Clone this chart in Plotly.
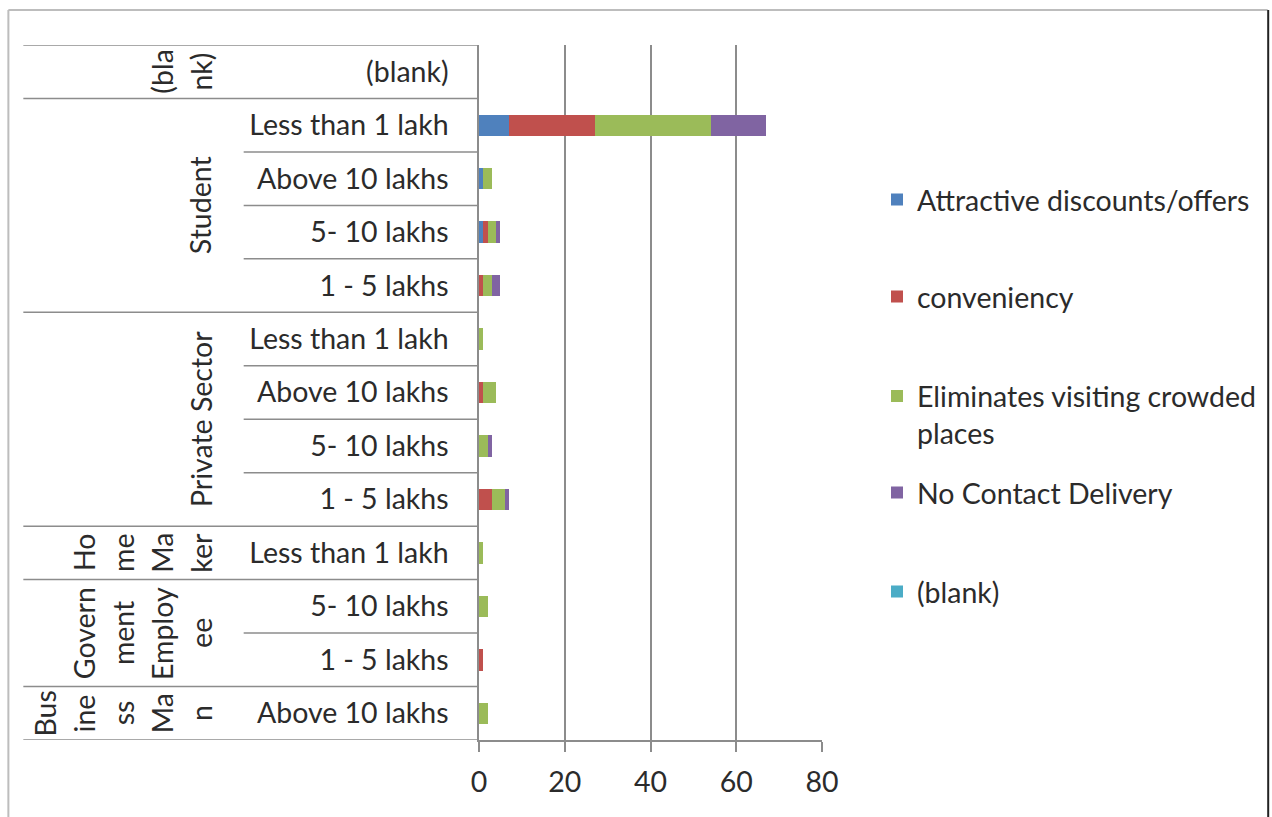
import plotly.graph_objects as go

# Row labels (top to bottom) and the occupation group each row belongs to
income_labels = ["(blank)",
                 "Less than 1 lakh", "Above 10 lakhs", "5- 10 lakhs", "1 - 5 lakhs",
                 "Less than 1 lakh", "Above 10 lakhs", "5- 10 lakhs", "1 - 5 lakhs",
                 "Less than 1 lakh",
                 "5- 10 lakhs", "1 - 5 lakhs",
                 "Above 10 lakhs"]
occupations = ["(blank)", "Student", "Private Sector", "Home Maker",
               "Government Employee", "Business Man"]
occupation_rows = [1, 4, 4, 1, 2, 1]
# Occupation names as wrapped in the narrow label column
occupation_lines = [["(bla", "nk)"],
                    ["Student"],
                    ["Private Sector"],
                    ["Ho", "me", "Ma", "ker"],
                    ["Govern", "ment", "Employ", "ee"],
                    ["Bus", "ine", "ss", "Ma", "n"]]

# Counts per reason
attractive = [None, 7, 1, 1, 0, 0, 0, 0, 0, 0, 0, 0, 0]
conveniency = [None, 20, 0, 1, 1, 0, 1, 0, 3, 0, 0, 1, 0]
eliminates = [None, 27, 2, 2, 2, 1, 3, 2, 3, 1, 2, 0, 2]
no_contact = [None, 13, 0, 1, 2, 0, 0, 1, 1, 0, 0, 0, 0]
blank_series = [None] * 13

series = [
    ("Attractive discounts/offers", attractive, "#4F81BD"),
    ("conveniency", conveniency, "#C0504D"),
    ("Eliminates visiting crowded<br>places", eliminates, "#9BBB59"),
    ("No Contact Delivery", no_contact, "#8064A2"),
    ("(blank)", blank_series, "#4BACC6"),
]

W, H = 1272, 817
L, R, T, B = 479, 823, 45, 740          # plot area in pixels
FONT = "Lato"
FS = 28.5
TXT = "#2b2b2b"
GRID = "#8c8c8c"


def px_x(px):
    return (px - L) / (R - L)


def px_y(py):
    return (B - py) / (B - T)


rows = list(range(len(income_labels)))
fig = go.Figure()
legend_names = ["legend", "legend2", "legend3", "legend4", "legend5"]
for (name, vals, color), lg in zip(series, legend_names):
    fig.add_trace(go.Bar(
        y=rows, x=vals, name=name, orientation="h",
        marker=dict(color=color, line=dict(width=0)),
        legend=lg, showlegend=True,
    ))

# Legend entries, one box each so their spacing can be set
legend_y = [200, 297, 371, 493, 592]
layout_legends = {}
for i, (lg, py) in enumerate(zip(legend_names, legend_y)):
    two_line = i == 2
    layout_legends[lg] = dict(
        x=px_x(877), y=px_y(py), xanchor="left",
        yanchor="top" if two_line else "middle",
        valign="top" if two_line else "middle",
        font=dict(family=FONT, size=FS, color=TXT),
        bgcolor="rgba(0,0,0,0)", borderwidth=0,
        tracegroupgap=0, itemclick=False, visible=True,
    )

shapes = []
annotations = []
# Row separators: short ones inside a group, long ones between groups
start = 0
for occ, n, lines in zip(occupations, occupation_rows, occupation_lines):
    end = start + n
    shapes.append(dict(type="line", xref="paper", yref="y",
                       x0=px_x(22), x1=0, y0=start - 0.5, y1=start - 0.5,
                       line=dict(color=GRID, width=1.5)))
    for k in range(start + 1, end):
        shapes.append(dict(type="line", xref="paper", yref="y",
                           x0=px_x(243), x1=0, y0=k - 0.5, y1=k - 0.5,
                           line=dict(color=GRID, width=1.5)))
    center = (start + end - 1) / 2
    nl = len(lines)
    for j, txt in enumerate(lines):
        xc = 200 - (nl - 1 - j) * 39
        annotations.append(dict(
            text=txt, xref="paper", yref="y", x=px_x(xc), y=center,
            xanchor="center", yanchor="middle", textangle=-90,
            showarrow=False, font=dict(family=FONT, size=FS, color=TXT)))
    start = end
shapes.append(dict(type="line", xref="paper", yref="y",
                   x0=px_x(22), x1=0, y0=start - 0.5, y1=start - 0.5,
                   line=dict(color=GRID, width=1.5)))

# Outer frame of the chart
shapes.append(dict(type="line", xref="paper", yref="paper",
                   x0=px_x(7), x1=px_x(1270), y0=px_y(10), y1=px_y(10),
                   line=dict(color="#bdbdbd", width=2)))
shapes.append(dict(type="line", xref="paper", yref="paper",
                   x0=px_x(7), x1=px_x(7), y0=px_y(10), y1=px_y(830),
                   line=dict(color="#bdbdbd", width=2)))
shapes.append(dict(type="line", xref="paper", yref="paper",
                   x0=px_x(1270.5), x1=px_x(1270.5), y0=px_y(10), y1=px_y(830),
                   line=dict(color="#222222", width=2)))

fig.update_layout(
    width=W, height=H,
    margin=dict(l=L, r=W - R, t=T, b=H - B, pad=0),
    paper_bgcolor="white", plot_bgcolor="white",
    barmode="stack", bargap=0.6, showlegend=True,
    font=dict(family=FONT, size=FS, color=TXT),
    shapes=shapes, annotations=annotations,
    **layout_legends,
)
fig.update_xaxes(
    range=[0, 80], tickvals=[0, 20, 40, 60, 80],
    showgrid=True, gridcolor=GRID, gridwidth=1.5,
    zeroline=False, showline=True, linecolor=GRID, linewidth=1.5,
    ticks="outside", ticklen=10, tickcolor=GRID, tickwidth=1.5,
    ticklabelstandoff=6,
    tickfont=dict(family=FONT, size=FS, color=TXT),
)
fig.update_yaxes(
    range=[len(rows) - 0.5, -0.5], tickvals=rows, ticktext=income_labels,
    showgrid=False, zeroline=False, showline=True, linecolor=GRID, linewidth=1.5,
    ticks="", ticklabelstandoff=23,
    tickfont=dict(family=FONT, size=FS, color=TXT),
)

fig.write_html("out.html")
